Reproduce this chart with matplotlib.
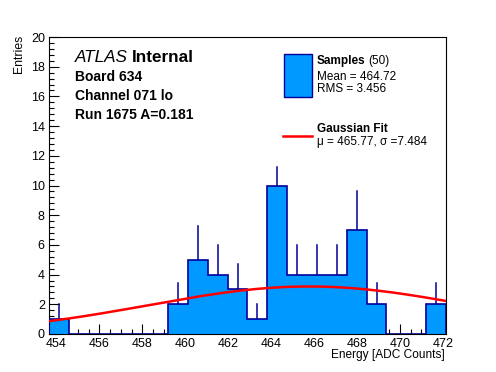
import numpy as np
import matplotlib
matplotlib.use("Agg")
from matplotlib import pyplot as plt
from matplotlib.patches import Rectangle
from matplotlib.ticker import MultipleLocator

plt.rcParams['font.family'] = ['Liberation Sans', 'DejaVu Sans']

# histogram data (20 bins)
x_lo, x_hi = 453.65, 472.15
counts = [1, 0, 0, 0, 0, 0, 2, 5, 4, 3, 1, 10, 4, 4, 4, 7, 2, 0, 0, 2]
err_up = [1.0, 0, 0, 0, 0, 0, 1.41, 2.24, 2.0, 1.73, 1.0, 1.27, 2.0, 2.0, 2.0, 2.65, 1.41, 0, 0, 1.41]

# gaussian fit
fit_amp = 3.2
fit_mu = 465.77
fit_sigma = 7.484

label_lines = ["Board 634", "Channel 071 lo", "Run 1675 A=0.181"]
n_samples = 50
mean_txt = "Mean = 464.72"
rms_txt = "RMS = 3.456"

fill_col = '#0099ff'
edge_col = '#000099'

edges = np.linspace(x_lo, x_hi, len(counts) + 1)
centers = 0.5 * (edges[:-1] + edges[1:])

fig = plt.figure(figsize=(4.96, 3.72), dpi=100)
ax = fig.add_axes([49/496, 1 - 334/372, 397/496, 297/372])

# error bars go under the filled histogram
for c, n, e in zip(centers, counts, err_up):
    if n > 0:
        ax.plot([c, c], [n - e, n + e], color=edge_col, lw=1.1, zorder=1)
ax.stairs(counts, edges, fill=True, color=fill_col, zorder=2)
ax.stairs(counts, edges, color=edge_col, lw=1.2, baseline=0, zorder=3)

xf = np.linspace(x_lo, x_hi, 300)
ax.plot(xf, fit_amp * np.exp(-(xf - fit_mu)**2 / (2 * fit_sigma**2)),
        color='red', lw=1.8, zorder=4)

ax.set_xlim(x_lo, x_hi)
ax.set_ylim(0, 20)
ax.xaxis.set_major_locator(MultipleLocator(2))
ax.xaxis.set_minor_locator(MultipleLocator(0.5))
ax.yaxis.set_major_locator(MultipleLocator(2))
ax.yaxis.set_minor_locator(MultipleLocator(0.4))
ax.tick_params(which='both', direction='in', top=False, right=False, labelsize=9, width=0.8)
ax.tick_params(which='major', length=7)
ax.tick_params(which='minor', length=3.8)
ax.tick_params(axis='x', pad=3)
ax.tick_params(axis='y', pad=3)
for s in ax.spines.values():
    s.set_linewidth(0.8)

# overlay in pixel coords for the labels and legend
ov = fig.add_axes([0, 0, 1, 1], facecolor='none')
ov.set_xlim(0, 496)
ov.set_ylim(372, 0)
ov.axis('off')

ov.text(19, 35, "Entries", rotation=90, ha='center', va='top', fontsize=8.8)
ov.text(445, 355, "Energy [ADC Counts]", ha='right', va='center', fontsize=8.6)

atl = ov.text(75, 58, "ATLAS", style='italic', fontsize=12.3, va='center')
ov.annotate("Internal", xy=(1, 0.5), xycoords=atl, xytext=(3, 0), textcoords='offset points',
            fontsize=12.3, fontweight='bold', va='center')
for i, t in enumerate(label_lines):
    ov.text(75, 77 + i * 18.8, t, fontsize=10, fontweight='bold', va='center')

# legend
ov.add_patch(Rectangle((283.5, 53.5), 28, 43, facecolor=fill_col, edgecolor=edge_col, lw=1))
smp = ov.text(317, 61, "Samples", fontsize=8.5, fontweight='bold', va='center')
ov.annotate("(%d)" % n_samples, xy=(1, 0.5), xycoords=smp, xytext=(1.8, 0), textcoords='offset points',
            fontsize=8.5, va='center')
ov.text(317, 77, mean_txt, fontsize=8.5, va='center')
ov.text(317, 89.5, rms_txt, fontsize=8.5, va='center')

ov.plot([283, 312], [135.7, 135.7], color='red', lw=1.8)
ov.text(317, 129, "Gaussian Fit", fontsize=8.5, fontweight='bold', va='center')
ov.text(317, 142.5, "\u03bc = %.2f, \u03c3 =%.3f" % (fit_mu, fit_sigma), fontsize=8.5, va='center')

fig.savefig("out.png", dpi=100)
